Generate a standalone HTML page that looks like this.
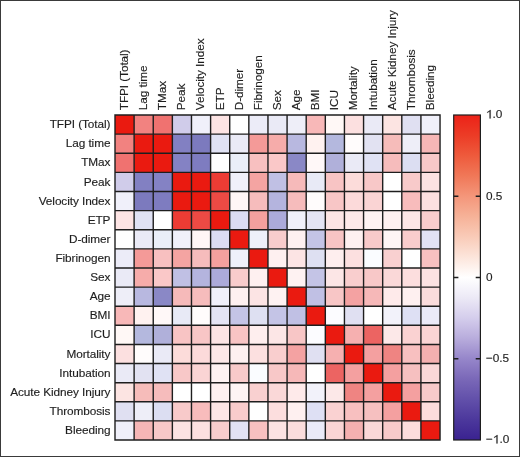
<!DOCTYPE html>
<html><head><meta charset="utf-8"><style>
html,body{margin:0;padding:0;background:#fff;}
body{width:520px;height:457px;overflow:hidden;position:relative;font-family:"Liberation Sans",sans-serif;}
.frame{position:absolute;left:0;top:0;width:518px;height:455px;border:1px solid #3a3a3a;}
</style></head><body>
<div style="position:absolute;left:0;top:0;width:520px;height:457px;"><svg width="520" height="457" viewBox="0 0 520 457" style="position:absolute;left:0;top:0"><defs><linearGradient id="g" x1="0" y1="0" x2="0" y2="1"><stop offset="0" stop-color="#EC2218"/><stop offset="0.0625" stop-color="#EC3C26"/><stop offset="0.125" stop-color="#EE5A3C"/><stop offset="0.1875" stop-color="#F07858"/><stop offset="0.25" stop-color="#F4967A"/><stop offset="0.3125" stop-color="#F6B298"/><stop offset="0.375" stop-color="#F9CBB8"/><stop offset="0.4375" stop-color="#FCE5DB"/><stop offset="0.5" stop-color="#FFFFFF"/><stop offset="0.5625" stop-color="#ECE9F6"/><stop offset="0.625" stop-color="#D4CDEC"/><stop offset="0.6875" stop-color="#B8ACDC"/><stop offset="0.75" stop-color="#9686CA"/><stop offset="0.8125" stop-color="#7A68B8"/><stop offset="0.875" stop-color="#6250AA"/><stop offset="0.9375" stop-color="#4C389C"/><stop offset="1" stop-color="#3A2290"/></linearGradient></defs><rect x="115.00" y="115.00" width="19.12" height="19.12" fill="#EA1A10"/><rect x="134.12" y="115.00" width="19.12" height="19.12" fill="#F28280"/><rect x="153.24" y="115.00" width="19.12" height="19.12" fill="#F07270"/><rect x="172.36" y="115.00" width="19.12" height="19.12" fill="#D0CCEA"/><rect x="191.48" y="115.00" width="19.12" height="19.12" fill="#F0F0FA"/><rect x="210.60" y="115.00" width="19.12" height="19.12" fill="#FDE4E4"/><rect x="229.72" y="115.00" width="19.12" height="19.12" fill="#FFFFFF"/><rect x="248.84" y="115.00" width="19.12" height="19.12" fill="#ECECF8"/><rect x="267.96" y="115.00" width="19.12" height="19.12" fill="#EAEAF6"/><rect x="287.08" y="115.00" width="19.12" height="19.12" fill="#EEEEF8"/><rect x="306.20" y="115.00" width="19.12" height="19.12" fill="#F8B8B8"/><rect x="325.32" y="115.00" width="19.12" height="19.12" fill="#FFF8F6"/><rect x="344.44" y="115.00" width="19.12" height="19.12" fill="#FCE0E0"/><rect x="363.56" y="115.00" width="19.12" height="19.12" fill="#EAEAF6"/><rect x="382.68" y="115.00" width="19.12" height="19.12" fill="#FCE4E2"/><rect x="401.80" y="115.00" width="19.12" height="19.12" fill="#E0E0F2"/><rect x="420.92" y="115.00" width="19.12" height="19.12" fill="#F0F0FA"/><rect x="115.00" y="134.12" width="19.12" height="19.12" fill="#F28280"/><rect x="134.12" y="134.12" width="19.12" height="19.12" fill="#EA1A10"/><rect x="153.24" y="134.12" width="19.12" height="19.12" fill="#EA1A10"/><rect x="172.36" y="134.12" width="19.12" height="19.12" fill="#8280C2"/><rect x="191.48" y="134.12" width="19.12" height="19.12" fill="#7C7ABE"/><rect x="210.60" y="134.12" width="19.12" height="19.12" fill="#E0E2F4"/><rect x="229.72" y="134.12" width="19.12" height="19.12" fill="#EAEAF6"/><rect x="248.84" y="134.12" width="19.12" height="19.12" fill="#F49A98"/><rect x="267.96" y="134.12" width="19.12" height="19.12" fill="#F6ACAA"/><rect x="287.08" y="134.12" width="19.12" height="19.12" fill="#B8B8E0"/><rect x="306.20" y="134.12" width="19.12" height="19.12" fill="#FFF2F0"/><rect x="325.32" y="134.12" width="19.12" height="19.12" fill="#B4B8DE"/><rect x="344.44" y="134.12" width="19.12" height="19.12" fill="#FFFCFC"/><rect x="363.56" y="134.12" width="19.12" height="19.12" fill="#E2E2F2"/><rect x="382.68" y="134.12" width="19.12" height="19.12" fill="#F6BCBA"/><rect x="401.80" y="134.12" width="19.12" height="19.12" fill="#EEEEF8"/><rect x="420.92" y="134.12" width="19.12" height="19.12" fill="#F6B6B6"/><rect x="115.00" y="153.24" width="19.12" height="19.12" fill="#F07270"/><rect x="134.12" y="153.24" width="19.12" height="19.12" fill="#EA1A10"/><rect x="153.24" y="153.24" width="19.12" height="19.12" fill="#EA1A10"/><rect x="172.36" y="153.24" width="19.12" height="19.12" fill="#8482C4"/><rect x="191.48" y="153.24" width="19.12" height="19.12" fill="#7E7CC0"/><rect x="210.60" y="153.24" width="19.12" height="19.12" fill="#FFFFFF"/><rect x="229.72" y="153.24" width="19.12" height="19.12" fill="#EAEEF8"/><rect x="248.84" y="153.24" width="19.12" height="19.12" fill="#F8C0C0"/><rect x="267.96" y="153.24" width="19.12" height="19.12" fill="#FAC8C8"/><rect x="287.08" y="153.24" width="19.12" height="19.12" fill="#8A88C6"/><rect x="306.20" y="153.24" width="19.12" height="19.12" fill="#FFF8F8"/><rect x="325.32" y="153.24" width="19.12" height="19.12" fill="#B0B0DA"/><rect x="344.44" y="153.24" width="19.12" height="19.12" fill="#EAEAF6"/><rect x="363.56" y="153.24" width="19.12" height="19.12" fill="#E0E2F4"/><rect x="382.68" y="153.24" width="19.12" height="19.12" fill="#F6BCBC"/><rect x="401.80" y="153.24" width="19.12" height="19.12" fill="#DCDEF2"/><rect x="420.92" y="153.24" width="19.12" height="19.12" fill="#F8C8C8"/><rect x="115.00" y="172.36" width="19.12" height="19.12" fill="#D0CCEA"/><rect x="134.12" y="172.36" width="19.12" height="19.12" fill="#8280C2"/><rect x="153.24" y="172.36" width="19.12" height="19.12" fill="#8482C4"/><rect x="172.36" y="172.36" width="19.12" height="19.12" fill="#EA1A10"/><rect x="191.48" y="172.36" width="19.12" height="19.12" fill="#EA1A10"/><rect x="210.60" y="172.36" width="19.12" height="19.12" fill="#EC3C34"/><rect x="229.72" y="172.36" width="19.12" height="19.12" fill="#F0F0FA"/><rect x="248.84" y="172.36" width="19.12" height="19.12" fill="#F4A4A2"/><rect x="267.96" y="172.36" width="19.12" height="19.12" fill="#C0C0E4"/><rect x="287.08" y="172.36" width="19.12" height="19.12" fill="#F6BABA"/><rect x="306.20" y="172.36" width="19.12" height="19.12" fill="#E8EAF6"/><rect x="325.32" y="172.36" width="19.12" height="19.12" fill="#F8C4C4"/><rect x="344.44" y="172.36" width="19.12" height="19.12" fill="#FCDCDA"/><rect x="363.56" y="172.36" width="19.12" height="19.12" fill="#F8C8C8"/><rect x="382.68" y="172.36" width="19.12" height="19.12" fill="#FFFFFF"/><rect x="401.80" y="172.36" width="19.12" height="19.12" fill="#F8CACA"/><rect x="420.92" y="172.36" width="19.12" height="19.12" fill="#FCE2E2"/><rect x="115.00" y="191.48" width="19.12" height="19.12" fill="#F0F0FA"/><rect x="134.12" y="191.48" width="19.12" height="19.12" fill="#7C7ABE"/><rect x="153.24" y="191.48" width="19.12" height="19.12" fill="#7E7CC0"/><rect x="172.36" y="191.48" width="19.12" height="19.12" fill="#EA1A10"/><rect x="191.48" y="191.48" width="19.12" height="19.12" fill="#EA1A10"/><rect x="210.60" y="191.48" width="19.12" height="19.12" fill="#EC4A44"/><rect x="229.72" y="191.48" width="19.12" height="19.12" fill="#FFF6F6"/><rect x="248.84" y="191.48" width="19.12" height="19.12" fill="#F6BCBC"/><rect x="267.96" y="191.48" width="19.12" height="19.12" fill="#B4B4DE"/><rect x="287.08" y="191.48" width="19.12" height="19.12" fill="#F6BCBC"/><rect x="306.20" y="191.48" width="19.12" height="19.12" fill="#FFFCFC"/><rect x="325.32" y="191.48" width="19.12" height="19.12" fill="#F8C6C6"/><rect x="344.44" y="191.48" width="19.12" height="19.12" fill="#FCDADA"/><rect x="363.56" y="191.48" width="19.12" height="19.12" fill="#FAD4D4"/><rect x="382.68" y="191.48" width="19.12" height="19.12" fill="#FFFFFF"/><rect x="401.80" y="191.48" width="19.12" height="19.12" fill="#F8BCBC"/><rect x="420.92" y="191.48" width="19.12" height="19.12" fill="#FCE0E0"/><rect x="115.00" y="210.60" width="19.12" height="19.12" fill="#FDE4E4"/><rect x="134.12" y="210.60" width="19.12" height="19.12" fill="#E0E2F4"/><rect x="153.24" y="210.60" width="19.12" height="19.12" fill="#FFFFFF"/><rect x="172.36" y="210.60" width="19.12" height="19.12" fill="#EC3C34"/><rect x="191.48" y="210.60" width="19.12" height="19.12" fill="#EC4A44"/><rect x="210.60" y="210.60" width="19.12" height="19.12" fill="#EA1A10"/><rect x="229.72" y="210.60" width="19.12" height="19.12" fill="#DCDCF2"/><rect x="248.84" y="210.60" width="19.12" height="19.12" fill="#F4A09E"/><rect x="267.96" y="210.60" width="19.12" height="19.12" fill="#ACAADA"/><rect x="287.08" y="210.60" width="19.12" height="19.12" fill="#F0F0FA"/><rect x="306.20" y="210.60" width="19.12" height="19.12" fill="#E4E4F4"/><rect x="325.32" y="210.60" width="19.12" height="19.12" fill="#FCE4E4"/><rect x="344.44" y="210.60" width="19.12" height="19.12" fill="#FDE8E8"/><rect x="363.56" y="210.60" width="19.12" height="19.12" fill="#FEF2F2"/><rect x="382.68" y="210.60" width="19.12" height="19.12" fill="#FEF0F0"/><rect x="401.80" y="210.60" width="19.12" height="19.12" fill="#FDE6E6"/><rect x="420.92" y="210.60" width="19.12" height="19.12" fill="#F8CCCC"/><rect x="115.00" y="229.72" width="19.12" height="19.12" fill="#FFFFFF"/><rect x="134.12" y="229.72" width="19.12" height="19.12" fill="#EAEAF6"/><rect x="153.24" y="229.72" width="19.12" height="19.12" fill="#EAEEF8"/><rect x="172.36" y="229.72" width="19.12" height="19.12" fill="#F0F0FA"/><rect x="191.48" y="229.72" width="19.12" height="19.12" fill="#FFF6F6"/><rect x="210.60" y="229.72" width="19.12" height="19.12" fill="#DCDCF2"/><rect x="229.72" y="229.72" width="19.12" height="19.12" fill="#EA1A10"/><rect x="248.84" y="229.72" width="19.12" height="19.12" fill="#EEF0FA"/><rect x="267.96" y="229.72" width="19.12" height="19.12" fill="#F8CCCC"/><rect x="287.08" y="229.72" width="19.12" height="19.12" fill="#FEF0F0"/><rect x="306.20" y="229.72" width="19.12" height="19.12" fill="#C4C4E6"/><rect x="325.32" y="229.72" width="19.12" height="19.12" fill="#F8C4C4"/><rect x="344.44" y="229.72" width="19.12" height="19.12" fill="#FEF0F0"/><rect x="363.56" y="229.72" width="19.12" height="19.12" fill="#F8CACA"/><rect x="382.68" y="229.72" width="19.12" height="19.12" fill="#FEF4F4"/><rect x="401.80" y="229.72" width="19.12" height="19.12" fill="#F9CCCC"/><rect x="420.92" y="229.72" width="19.12" height="19.12" fill="#E2E2F4"/><rect x="115.00" y="248.84" width="19.12" height="19.12" fill="#ECECF8"/><rect x="134.12" y="248.84" width="19.12" height="19.12" fill="#F49A98"/><rect x="153.24" y="248.84" width="19.12" height="19.12" fill="#F8C0C0"/><rect x="172.36" y="248.84" width="19.12" height="19.12" fill="#F4A4A2"/><rect x="191.48" y="248.84" width="19.12" height="19.12" fill="#F6BCBC"/><rect x="210.60" y="248.84" width="19.12" height="19.12" fill="#F4A09E"/><rect x="229.72" y="248.84" width="19.12" height="19.12" fill="#EEF0FA"/><rect x="248.84" y="248.84" width="19.12" height="19.12" fill="#EA1A10"/><rect x="267.96" y="248.84" width="19.12" height="19.12" fill="#FEF0F0"/><rect x="287.08" y="248.84" width="19.12" height="19.12" fill="#FCE4E4"/><rect x="306.20" y="248.84" width="19.12" height="19.12" fill="#DEE0F2"/><rect x="325.32" y="248.84" width="19.12" height="19.12" fill="#FEEEEE"/><rect x="344.44" y="248.84" width="19.12" height="19.12" fill="#FCE0E0"/><rect x="363.56" y="248.84" width="19.12" height="19.12" fill="#FAFCFF"/><rect x="382.68" y="248.84" width="19.12" height="19.12" fill="#F9D0D0"/><rect x="401.80" y="248.84" width="19.12" height="19.12" fill="#FFFFFF"/><rect x="420.92" y="248.84" width="19.12" height="19.12" fill="#F8C0C0"/><rect x="115.00" y="267.96" width="19.12" height="19.12" fill="#EAEAF6"/><rect x="134.12" y="267.96" width="19.12" height="19.12" fill="#F6ACAA"/><rect x="153.24" y="267.96" width="19.12" height="19.12" fill="#FAC8C8"/><rect x="172.36" y="267.96" width="19.12" height="19.12" fill="#C0C0E4"/><rect x="191.48" y="267.96" width="19.12" height="19.12" fill="#B4B4DE"/><rect x="210.60" y="267.96" width="19.12" height="19.12" fill="#ACAADA"/><rect x="229.72" y="267.96" width="19.12" height="19.12" fill="#F8CCCC"/><rect x="248.84" y="267.96" width="19.12" height="19.12" fill="#FEF0F0"/><rect x="267.96" y="267.96" width="19.12" height="19.12" fill="#EA1A10"/><rect x="287.08" y="267.96" width="19.12" height="19.12" fill="#FEF2F2"/><rect x="306.20" y="267.96" width="19.12" height="19.12" fill="#C4C4E6"/><rect x="325.32" y="267.96" width="19.12" height="19.12" fill="#FCE6E6"/><rect x="344.44" y="267.96" width="19.12" height="19.12" fill="#F9CECE"/><rect x="363.56" y="267.96" width="19.12" height="19.12" fill="#F8C8C8"/><rect x="382.68" y="267.96" width="19.12" height="19.12" fill="#FAD8D8"/><rect x="401.80" y="267.96" width="19.12" height="19.12" fill="#FCDEDE"/><rect x="420.92" y="267.96" width="19.12" height="19.12" fill="#FCE2E2"/><rect x="115.00" y="287.08" width="19.12" height="19.12" fill="#EEEEF8"/><rect x="134.12" y="287.08" width="19.12" height="19.12" fill="#B8B8E0"/><rect x="153.24" y="287.08" width="19.12" height="19.12" fill="#8A88C6"/><rect x="172.36" y="287.08" width="19.12" height="19.12" fill="#F6BABA"/><rect x="191.48" y="287.08" width="19.12" height="19.12" fill="#F6BCBC"/><rect x="210.60" y="287.08" width="19.12" height="19.12" fill="#F0F0FA"/><rect x="229.72" y="287.08" width="19.12" height="19.12" fill="#FEF0F0"/><rect x="248.84" y="287.08" width="19.12" height="19.12" fill="#FCE4E4"/><rect x="267.96" y="287.08" width="19.12" height="19.12" fill="#FEF2F2"/><rect x="287.08" y="287.08" width="19.12" height="19.12" fill="#EA1A10"/><rect x="306.20" y="287.08" width="19.12" height="19.12" fill="#C0C0E4"/><rect x="325.32" y="287.08" width="19.12" height="19.12" fill="#F8C6C6"/><rect x="344.44" y="287.08" width="19.12" height="19.12" fill="#F4A2A2"/><rect x="363.56" y="287.08" width="19.12" height="19.12" fill="#F6B8B8"/><rect x="382.68" y="287.08" width="19.12" height="19.12" fill="#FEEAEA"/><rect x="401.80" y="287.08" width="19.12" height="19.12" fill="#FEF0F0"/><rect x="420.92" y="287.08" width="19.12" height="19.12" fill="#FADCDC"/><rect x="115.00" y="306.20" width="19.12" height="19.12" fill="#F8B8B8"/><rect x="134.12" y="306.20" width="19.12" height="19.12" fill="#FFF2F0"/><rect x="153.24" y="306.20" width="19.12" height="19.12" fill="#FFF8F8"/><rect x="172.36" y="306.20" width="19.12" height="19.12" fill="#E8EAF6"/><rect x="191.48" y="306.20" width="19.12" height="19.12" fill="#FFFCFC"/><rect x="210.60" y="306.20" width="19.12" height="19.12" fill="#E4E4F4"/><rect x="229.72" y="306.20" width="19.12" height="19.12" fill="#C4C4E6"/><rect x="248.84" y="306.20" width="19.12" height="19.12" fill="#DEE0F2"/><rect x="267.96" y="306.20" width="19.12" height="19.12" fill="#C4C4E6"/><rect x="287.08" y="306.20" width="19.12" height="19.12" fill="#C0C0E4"/><rect x="306.20" y="306.20" width="19.12" height="19.12" fill="#EA1A10"/><rect x="325.32" y="306.20" width="19.12" height="19.12" fill="#FCFCFF"/><rect x="344.44" y="306.20" width="19.12" height="19.12" fill="#E0E0F2"/><rect x="363.56" y="306.20" width="19.12" height="19.12" fill="#FFFFFF"/><rect x="382.68" y="306.20" width="19.12" height="19.12" fill="#F2F2FA"/><rect x="401.80" y="306.20" width="19.12" height="19.12" fill="#DEE0F4"/><rect x="420.92" y="306.20" width="19.12" height="19.12" fill="#EAEAF8"/><rect x="115.00" y="325.32" width="19.12" height="19.12" fill="#FFF8F6"/><rect x="134.12" y="325.32" width="19.12" height="19.12" fill="#B4B8DE"/><rect x="153.24" y="325.32" width="19.12" height="19.12" fill="#B0B0DA"/><rect x="172.36" y="325.32" width="19.12" height="19.12" fill="#F8C4C4"/><rect x="191.48" y="325.32" width="19.12" height="19.12" fill="#F8C6C6"/><rect x="210.60" y="325.32" width="19.12" height="19.12" fill="#FCE4E4"/><rect x="229.72" y="325.32" width="19.12" height="19.12" fill="#F8C4C4"/><rect x="248.84" y="325.32" width="19.12" height="19.12" fill="#FEEEEE"/><rect x="267.96" y="325.32" width="19.12" height="19.12" fill="#FCE6E6"/><rect x="287.08" y="325.32" width="19.12" height="19.12" fill="#F8C6C6"/><rect x="306.20" y="325.32" width="19.12" height="19.12" fill="#FCFCFF"/><rect x="325.32" y="325.32" width="19.12" height="19.12" fill="#EA1A10"/><rect x="344.44" y="325.32" width="19.12" height="19.12" fill="#F6B0B0"/><rect x="363.56" y="325.32" width="19.12" height="19.12" fill="#EC6462"/><rect x="382.68" y="325.32" width="19.12" height="19.12" fill="#FCE8E8"/><rect x="401.80" y="325.32" width="19.12" height="19.12" fill="#FAD2D2"/><rect x="420.92" y="325.32" width="19.12" height="19.12" fill="#FAD4D4"/><rect x="115.00" y="344.44" width="19.12" height="19.12" fill="#FCE0E0"/><rect x="134.12" y="344.44" width="19.12" height="19.12" fill="#FFFCFC"/><rect x="153.24" y="344.44" width="19.12" height="19.12" fill="#EAEAF6"/><rect x="172.36" y="344.44" width="19.12" height="19.12" fill="#FCDCDA"/><rect x="191.48" y="344.44" width="19.12" height="19.12" fill="#FCDADA"/><rect x="210.60" y="344.44" width="19.12" height="19.12" fill="#FDE8E8"/><rect x="229.72" y="344.44" width="19.12" height="19.12" fill="#FEF0F0"/><rect x="248.84" y="344.44" width="19.12" height="19.12" fill="#FCE0E0"/><rect x="267.96" y="344.44" width="19.12" height="19.12" fill="#F9CECE"/><rect x="287.08" y="344.44" width="19.12" height="19.12" fill="#F4A2A2"/><rect x="306.20" y="344.44" width="19.12" height="19.12" fill="#E0E0F2"/><rect x="325.32" y="344.44" width="19.12" height="19.12" fill="#F6B0B0"/><rect x="344.44" y="344.44" width="19.12" height="19.12" fill="#EA1A10"/><rect x="363.56" y="344.44" width="19.12" height="19.12" fill="#F4A0A0"/><rect x="382.68" y="344.44" width="19.12" height="19.12" fill="#EF8482"/><rect x="401.80" y="344.44" width="19.12" height="19.12" fill="#F8C0C0"/><rect x="420.92" y="344.44" width="19.12" height="19.12" fill="#F4B0B0"/><rect x="115.00" y="363.56" width="19.12" height="19.12" fill="#EAEAF6"/><rect x="134.12" y="363.56" width="19.12" height="19.12" fill="#E2E2F2"/><rect x="153.24" y="363.56" width="19.12" height="19.12" fill="#E0E2F4"/><rect x="172.36" y="363.56" width="19.12" height="19.12" fill="#F8C8C8"/><rect x="191.48" y="363.56" width="19.12" height="19.12" fill="#FAD4D4"/><rect x="210.60" y="363.56" width="19.12" height="19.12" fill="#FEF2F2"/><rect x="229.72" y="363.56" width="19.12" height="19.12" fill="#F8CACA"/><rect x="248.84" y="363.56" width="19.12" height="19.12" fill="#FAFCFF"/><rect x="267.96" y="363.56" width="19.12" height="19.12" fill="#F8C8C8"/><rect x="287.08" y="363.56" width="19.12" height="19.12" fill="#F6B8B8"/><rect x="306.20" y="363.56" width="19.12" height="19.12" fill="#FFFFFF"/><rect x="325.32" y="363.56" width="19.12" height="19.12" fill="#EC6462"/><rect x="344.44" y="363.56" width="19.12" height="19.12" fill="#F4A0A0"/><rect x="363.56" y="363.56" width="19.12" height="19.12" fill="#EA1A10"/><rect x="382.68" y="363.56" width="19.12" height="19.12" fill="#F4A0A0"/><rect x="401.80" y="363.56" width="19.12" height="19.12" fill="#F6C0C0"/><rect x="420.92" y="363.56" width="19.12" height="19.12" fill="#FAD8D8"/><rect x="115.00" y="382.68" width="19.12" height="19.12" fill="#FCE4E2"/><rect x="134.12" y="382.68" width="19.12" height="19.12" fill="#F6BCBA"/><rect x="153.24" y="382.68" width="19.12" height="19.12" fill="#F6BCBC"/><rect x="172.36" y="382.68" width="19.12" height="19.12" fill="#FFFFFF"/><rect x="191.48" y="382.68" width="19.12" height="19.12" fill="#FFFFFF"/><rect x="210.60" y="382.68" width="19.12" height="19.12" fill="#FEF0F0"/><rect x="229.72" y="382.68" width="19.12" height="19.12" fill="#FEF4F4"/><rect x="248.84" y="382.68" width="19.12" height="19.12" fill="#F9D0D0"/><rect x="267.96" y="382.68" width="19.12" height="19.12" fill="#FAD8D8"/><rect x="287.08" y="382.68" width="19.12" height="19.12" fill="#FEEAEA"/><rect x="306.20" y="382.68" width="19.12" height="19.12" fill="#F2F2FA"/><rect x="325.32" y="382.68" width="19.12" height="19.12" fill="#FCE8E8"/><rect x="344.44" y="382.68" width="19.12" height="19.12" fill="#EF8482"/><rect x="363.56" y="382.68" width="19.12" height="19.12" fill="#F4A0A0"/><rect x="382.68" y="382.68" width="19.12" height="19.12" fill="#EA1A10"/><rect x="401.80" y="382.68" width="19.12" height="19.12" fill="#F4A0A0"/><rect x="420.92" y="382.68" width="19.12" height="19.12" fill="#F8CACA"/><rect x="115.00" y="401.80" width="19.12" height="19.12" fill="#E0E0F2"/><rect x="134.12" y="401.80" width="19.12" height="19.12" fill="#EEEEF8"/><rect x="153.24" y="401.80" width="19.12" height="19.12" fill="#DCDEF2"/><rect x="172.36" y="401.80" width="19.12" height="19.12" fill="#F8CACA"/><rect x="191.48" y="401.80" width="19.12" height="19.12" fill="#F8BCBC"/><rect x="210.60" y="401.80" width="19.12" height="19.12" fill="#FDE6E6"/><rect x="229.72" y="401.80" width="19.12" height="19.12" fill="#F9CCCC"/><rect x="248.84" y="401.80" width="19.12" height="19.12" fill="#FFFFFF"/><rect x="267.96" y="401.80" width="19.12" height="19.12" fill="#FCDEDE"/><rect x="287.08" y="401.80" width="19.12" height="19.12" fill="#FEF0F0"/><rect x="306.20" y="401.80" width="19.12" height="19.12" fill="#DEE0F4"/><rect x="325.32" y="401.80" width="19.12" height="19.12" fill="#FAD2D2"/><rect x="344.44" y="401.80" width="19.12" height="19.12" fill="#F8C0C0"/><rect x="363.56" y="401.80" width="19.12" height="19.12" fill="#F6C0C0"/><rect x="382.68" y="401.80" width="19.12" height="19.12" fill="#F4A0A0"/><rect x="401.80" y="401.80" width="19.12" height="19.12" fill="#EA1A10"/><rect x="420.92" y="401.80" width="19.12" height="19.12" fill="#FCDCDC"/><rect x="115.00" y="420.92" width="19.12" height="19.12" fill="#F0F0FA"/><rect x="134.12" y="420.92" width="19.12" height="19.12" fill="#F6B6B6"/><rect x="153.24" y="420.92" width="19.12" height="19.12" fill="#F8C8C8"/><rect x="172.36" y="420.92" width="19.12" height="19.12" fill="#FCE2E2"/><rect x="191.48" y="420.92" width="19.12" height="19.12" fill="#FCE0E0"/><rect x="210.60" y="420.92" width="19.12" height="19.12" fill="#F8CCCC"/><rect x="229.72" y="420.92" width="19.12" height="19.12" fill="#E2E2F4"/><rect x="248.84" y="420.92" width="19.12" height="19.12" fill="#F8C0C0"/><rect x="267.96" y="420.92" width="19.12" height="19.12" fill="#FCE2E2"/><rect x="287.08" y="420.92" width="19.12" height="19.12" fill="#FADCDC"/><rect x="306.20" y="420.92" width="19.12" height="19.12" fill="#EAEAF8"/><rect x="325.32" y="420.92" width="19.12" height="19.12" fill="#FAD4D4"/><rect x="344.44" y="420.92" width="19.12" height="19.12" fill="#F4B0B0"/><rect x="363.56" y="420.92" width="19.12" height="19.12" fill="#FAD8D8"/><rect x="382.68" y="420.92" width="19.12" height="19.12" fill="#F8CACA"/><rect x="401.80" y="420.92" width="19.12" height="19.12" fill="#FCDCDC"/><rect x="420.92" y="420.92" width="19.12" height="19.12" fill="#EA1A10"/><path d="M115.00 115.00V440.04M115.00 115.00H440.04M134.12 115.00V440.04M115.00 134.12H440.04M153.24 115.00V440.04M115.00 153.24H440.04M172.36 115.00V440.04M115.00 172.36H440.04M191.48 115.00V440.04M115.00 191.48H440.04M210.60 115.00V440.04M115.00 210.60H440.04M229.72 115.00V440.04M115.00 229.72H440.04M248.84 115.00V440.04M115.00 248.84H440.04M267.96 115.00V440.04M115.00 267.96H440.04M287.08 115.00V440.04M115.00 287.08H440.04M306.20 115.00V440.04M115.00 306.20H440.04M325.32 115.00V440.04M115.00 325.32H440.04M344.44 115.00V440.04M115.00 344.44H440.04M363.56 115.00V440.04M115.00 363.56H440.04M382.68 115.00V440.04M115.00 382.68H440.04M401.80 115.00V440.04M115.00 401.80H440.04M420.92 115.00V440.04M115.00 420.92H440.04M440.04 115.00V440.04M115.00 440.04H440.04" stroke="#1e1e1e" stroke-width="1.4" fill="none" stroke-linecap="square"/><rect x="453.7" y="115" width="26.69999999999999" height="325" fill="url(#g)" stroke="#1e1e1e" stroke-width="1.2"/><path d="M453.7 196.25h4.7M480.4 196.25h-4.7M453.7 277.50h4.7M480.4 277.50h-4.7M453.7 358.75h4.7M480.4 358.75h-4.7" stroke="#1e1e1e" stroke-width="1.3"/></svg></div><svg width="520" height="457" viewBox="0 0 520 457" style="position:absolute;left:0;top:0;will-change:transform" font-family="Liberation Sans, sans-serif" font-size="11.8" fill="#1e1e1e" stroke="#1e1e1e" stroke-width="0.15" letter-spacing="-0.08"><text x="110.40" y="128.16" text-anchor="end">TFPI (Total)</text><text x="110.40" y="147.28" text-anchor="end">Lag time</text><text x="110.40" y="166.40" text-anchor="end">TMax</text><text x="110.40" y="185.52" text-anchor="end">Peak</text><text x="110.40" y="204.64" text-anchor="end">Velocity Index</text><text x="110.40" y="223.76" text-anchor="end">ETP</text><text x="110.40" y="242.88" text-anchor="end">D-dimer</text><text x="110.40" y="262.00" text-anchor="end">Fibrinogen</text><text x="110.40" y="281.12" text-anchor="end">Sex</text><text x="110.40" y="300.24" text-anchor="end">Age</text><text x="110.40" y="319.36" text-anchor="end">BMI</text><text x="110.40" y="338.48" text-anchor="end">ICU</text><text x="110.40" y="357.60" text-anchor="end">Mortality</text><text x="110.40" y="376.72" text-anchor="end">Intubation</text><text x="110.40" y="395.84" text-anchor="end">Acute Kidney Injury</text><text x="110.40" y="414.96" text-anchor="end">Thrombosis</text><text x="110.40" y="434.08" text-anchor="end">Bleeding</text><text transform="translate(127.96,110.20) rotate(-90)">TFPI (Total)</text><text transform="translate(147.08,110.20) rotate(-90)">Lag time</text><text transform="translate(166.20,110.20) rotate(-90)">TMax</text><text transform="translate(185.32,110.20) rotate(-90)">Peak</text><text transform="translate(204.44,110.20) rotate(-90)">Velocity Index</text><text transform="translate(223.56,110.20) rotate(-90)">ETP</text><text transform="translate(242.68,110.20) rotate(-90)">D-dimer</text><text transform="translate(261.80,110.20) rotate(-90)">Fibrinogen</text><text transform="translate(280.92,110.20) rotate(-90)">Sex</text><text transform="translate(300.04,110.20) rotate(-90)">Age</text><text transform="translate(319.16,110.20) rotate(-90)">BMI</text><text transform="translate(338.28,110.20) rotate(-90)">ICU</text><text transform="translate(357.40,110.20) rotate(-90)">Mortality</text><text transform="translate(376.52,110.20) rotate(-90)">Intubation</text><text transform="translate(395.64,110.20) rotate(-90)">Acute Kidney Injury</text><text transform="translate(414.76,110.20) rotate(-90)">Thrombosis</text><text transform="translate(433.88,110.20) rotate(-90)">Bleeding</text><path d="M490.65 109.95 L489.89 109.95 L489.36 110.67 L487.24 111.97 L487.24 112.95 L489.54 111.62 L489.54 118.40 L490.65 118.40Z"/><text x="492.56" y="118.40">.0</text><text x="486.00" y="199.65">0.5</text><text x="486.00" y="280.90">0</text><text x="486.00" y="362.15">−0.5</text><text x="486.00" y="443.40">−</text><path d="M497.54 434.95 L496.79 434.95 L496.25 435.67 L494.13 436.97 L494.13 437.95 L496.43 436.61 L496.43 443.40 L497.54 443.40Z"/><text x="499.45" y="443.40">.0</text></svg>
<div class="frame"></div>
</body></html>
